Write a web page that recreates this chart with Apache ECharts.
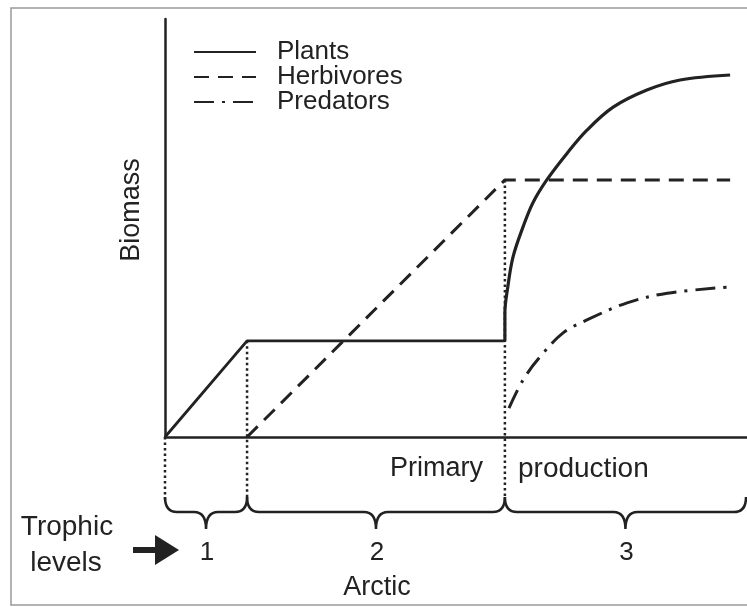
<!DOCTYPE html>
<html>
<head>
<meta charset="utf-8">
<script src="https://cdn.jsdelivr.net/npm/echarts@6/dist/echarts.min.js"></script>
<style>
  html, body { margin: 0; padding: 0; background: #fff; }
  #chart { width: 747px; height: 607px; }
</style>
</head>
<body>
<div id="chart"></div>
<script>
// x in arbitrary time units (0..100), y in relative biomass (0..100)
const breaks = [0, 14.1, 58.4, 100];
const plantsLinear = [[0, 0], [14.1, 23], [58.4, 23]];
const plantsCurve = [
    [58.4, 23], [58.4, 29.7], [58.9, 35.9], [59.8, 43.1], [61.5, 50.2], [63.2, 56.0],
    [65.6, 61.5], [69.1, 67.9], [72.5, 73.4], [77.0, 78.9], [82.8, 83.0], [88.5, 85.4], [97.1, 86.6]
];
const herbivores = [[14.1, 0], [58.4, 61.5], [97.1, 61.5]];
const predators = [
    [59.1, 6.9], [61.5, 13.6], [64.4, 19.1], [68.4, 24.9], [72.5, 28.0],
    [79.4, 32.1], [86.3, 34.4], [97.1, 35.9]
];
const dropTops = [0, 23, 61.5];
const dropBottom = -15;
const levelLabels = ['1', '2', '3'];
const levelSpans = [[0, 14.1, 1], [14.1, 58.4, 2], [58.4, 100, 3]];

const ink = '#222';
const font = "'Liberation Sans', Arial, sans-serif";

const chart = echarts.init(document.getElementById('chart'));

const lineBase = (name, data, type, width, smooth) => ({
    name: name,
    type: 'line',
    data: data,
    symbol: 'none',
    smooth: smooth || false,
    lineStyle: { color: ink, width: width, type: type },
    itemStyle: { color: ink },
    z: 3
});

const dropSeries = breaks.slice(0, 3).map((x, i) => ({
    type: 'line',
    data: [[x, dropTops[i]], [x, dropBottom]],
    symbol: 'none',
    clip: false,
    silent: true,
    lineStyle: { color: ink, width: 2.5, type: [2.5, 3] },
    z: 2
}));

// curly braces under the axis, one per trophic span
const braceSeries = {
    type: 'custom',
    data: levelSpans,
    encode: { x: [0, 1] },
    clip: false,
    silent: true,
    renderItem: (params, api) => {
        const y0 = api.coord([0, 0])[1];
        const a = api.coord([api.value(0), 0])[0];
        const b = Math.min(api.coord([api.value(1), 0])[0], 746);
        const c = (a + b) / 2;
        const top = y0 + 60, mid = y0 + 75, tip = y0 + 92;
        const d = `M${a},${top} Q${a},${mid} ${a + 12},${mid} L${c - 12},${mid} ` +
            `Q${c},${mid} ${c},${tip} Q${c},${mid} ${c + 12},${mid} ` +
            `L${b - 12},${mid} Q${b},${mid} ${b},${top}`;
        return {
            type: 'group',
            children: [
                { type: 'path', shape: { pathData: d }, style: { fill: 'none', stroke: ink, lineWidth: 2.5 } },
                {
                    type: 'text', x: c + 1, y: y0 + 116,
                    style: { text: levelLabels[params.dataIndex], font: `26px ${font}`, fill: ink, align: 'center', verticalAlign: 'middle' }
                }
            ]
        };
    }
};

const txt = (s, x, y, align, size, rot) => ({
    type: 'text', x: x, y: y, rotation: rot || 0,
    style: { text: s, font: `${size || 27}px ${font}`, fill: ink, align: align || 'center', verticalAlign: 'middle' }
});

const option = {
    animation: false,
    backgroundColor: '#fff',
    grid: { left: 165, right: 0, top: 19, bottom: 170 },
    legend: {
        data: ['Plants', 'Herbivores', 'Predators'],
        orient: 'vertical',
        left: 193,
        top: 39,
        padding: 0,
        itemWidth: 62,
        itemHeight: 14,
        itemGap: -1,
        itemStyle: { opacity: 0 },
        textStyle: { fontFamily: font, fontSize: 26, color: ink, lineHeight: 25, padding: [0, 0, 0, 16] }
    },
    xAxis: {
        type: 'value', min: 0, max: 100,
        axisLine: { show: true, lineStyle: { color: ink, width: 2.5 } },
        axisTick: { show: false }, axisLabel: { show: false }, splitLine: { show: false }
    },
    yAxis: {
        type: 'value', min: 0, max: 100,
        axisLine: { show: true, lineStyle: { color: ink, width: 2.5 } },
        axisTick: { show: false }, axisLabel: { show: false }, splitLine: { show: false }
    },
    graphic: [
        { type: 'rect', shape: { x: 11, y: 8, width: 740, height: 597 }, style: { fill: null, stroke: '#999', lineWidth: 1.5 } },
        txt('Biomass', 132, 210, 'center', 27, Math.PI / 2),
        txt('Primary', 483, 469, 'right', 27),
        txt('production', 518, 469, 'left', 28),
        txt('Trophic', 67, 527, 'center', 28),
        txt('levels', 66, 563, 'center', 28),
        txt('Arctic', 377, 588, 'center', 27),
        { type: 'rect', shape: { x: 133, y: 547, width: 25, height: 6 }, style: { fill: ink } },
        { type: 'polygon', shape: { points: [[155, 535], [179, 550], [155, 565]] }, style: { fill: ink } }
    ],
    series: [
        lineBase('Plants', plantsLinear, 'solid', 2.8),
        lineBase('Herbivores', herbivores, [15, 9], 3),
        lineBase('Predators', predators, [20, 8, 3, 8], 3, 0.35),
        lineBase('Plants', plantsCurve, 'solid', 3.2, 0.35),
        braceSeries
    ].concat(dropSeries)
};

chart.setOption(option);
</script>
</body>
</html>
